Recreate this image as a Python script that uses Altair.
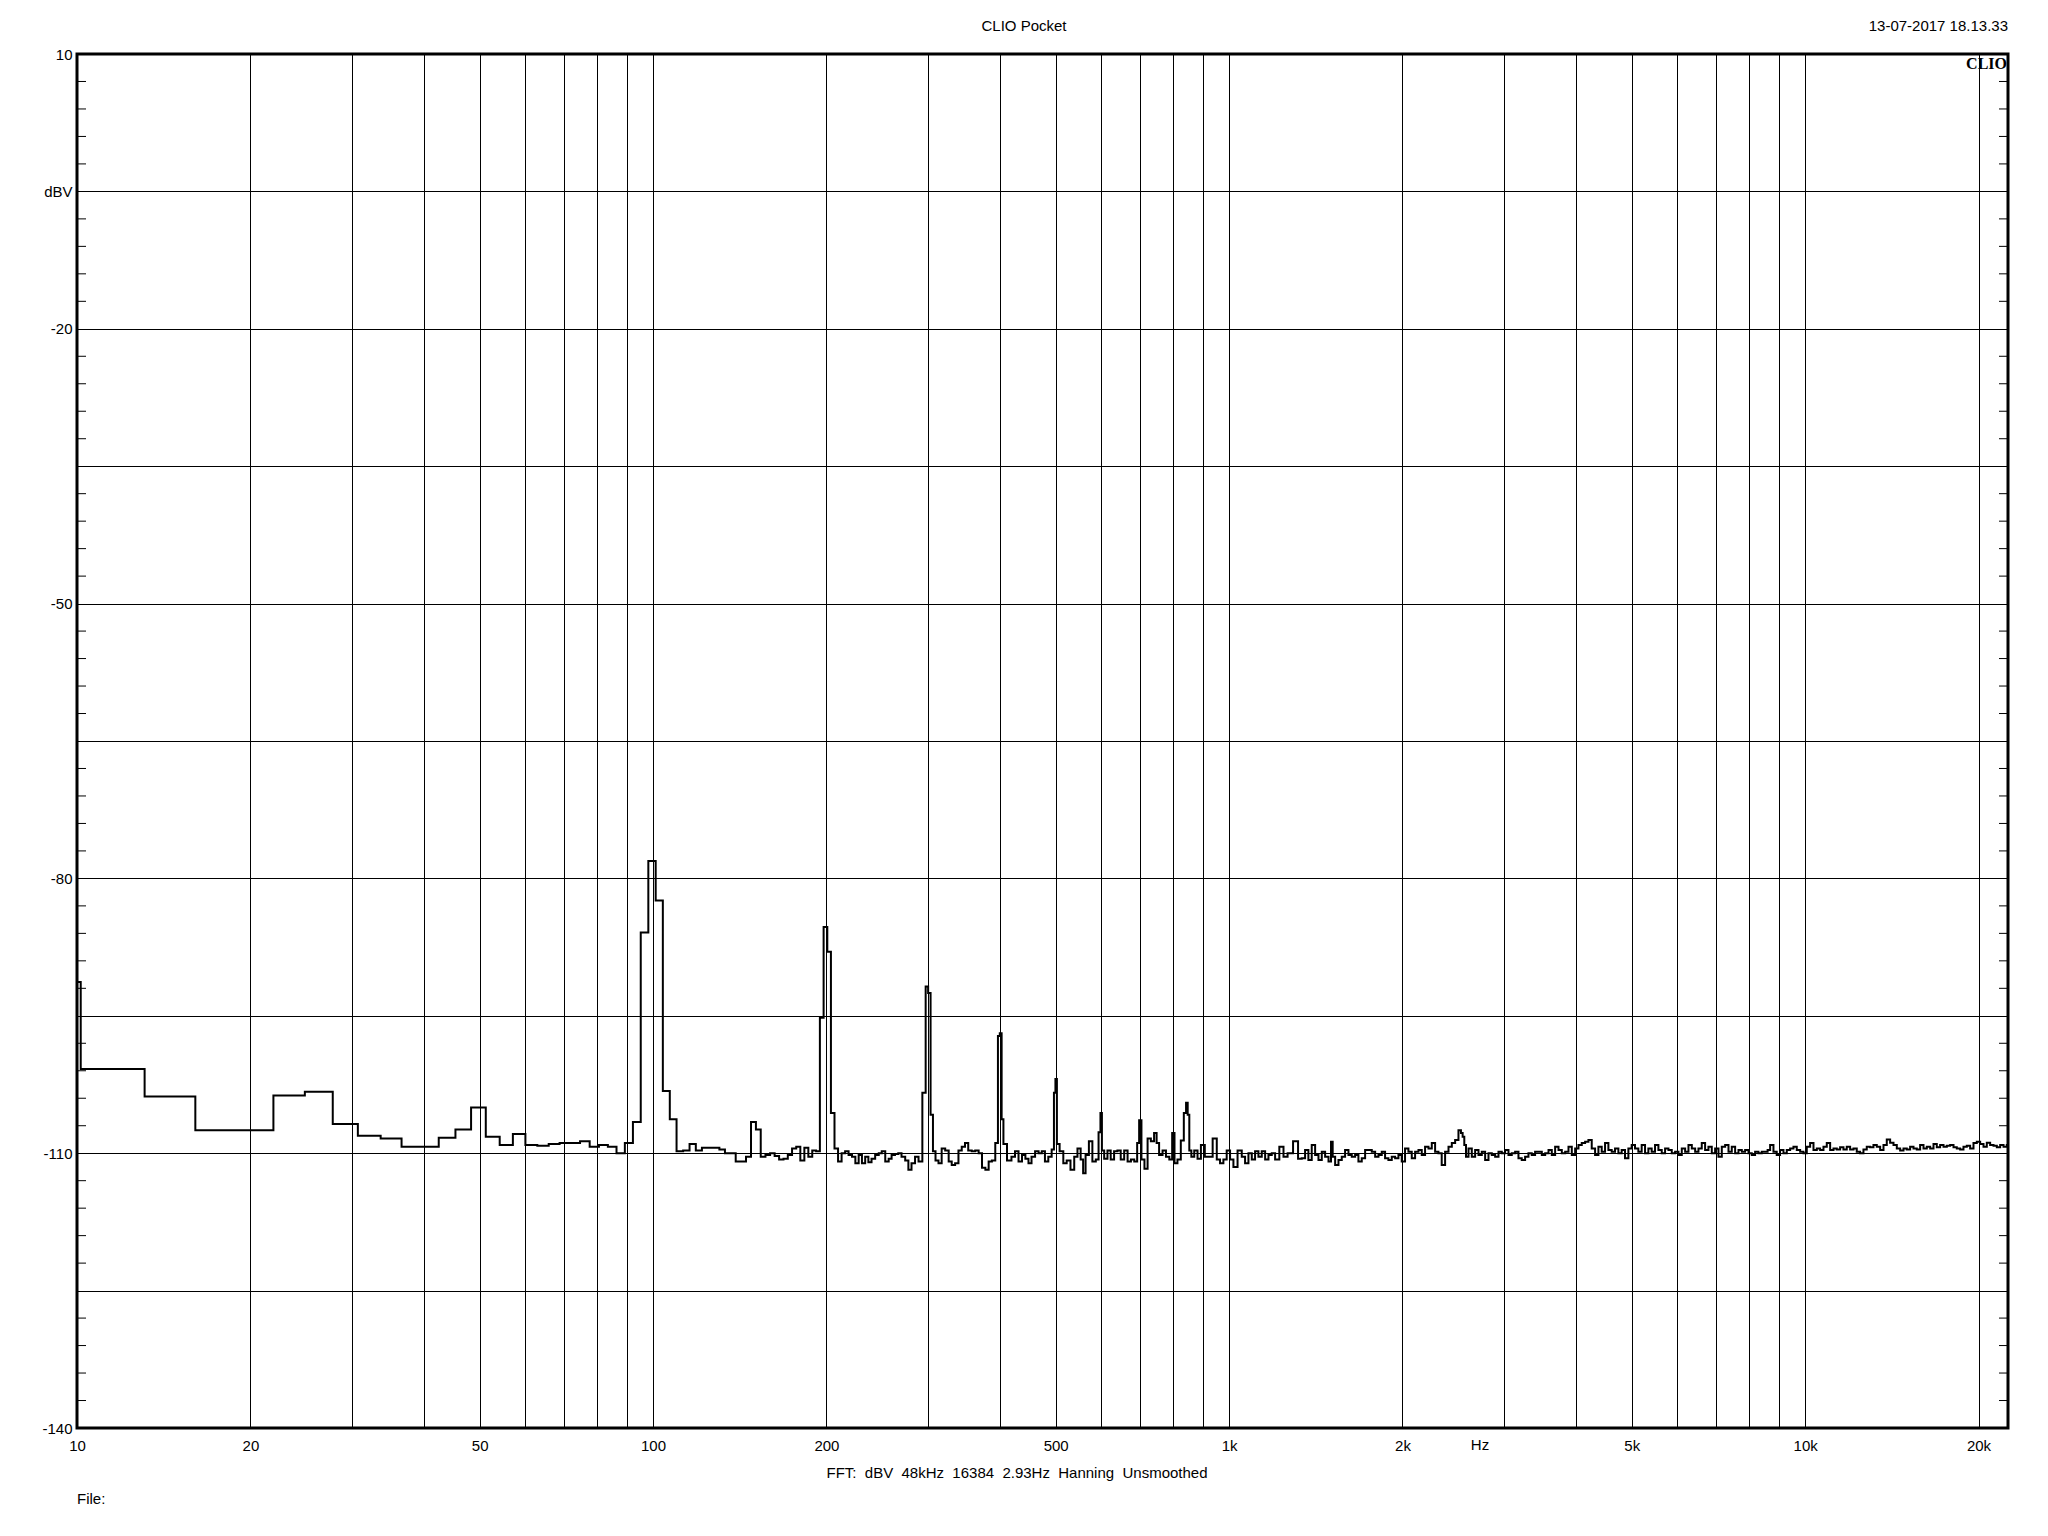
import altair as alt
import pandas as pd

# ---------------- data ----------------
freq_hz = [
    8.79, 11.72, 14.65, 17.58, 20.51, 23.44, 26.37, 29.30, 32.23, 35.16,
    38.09, 41.02, 43.95, 46.88, 49.80, 52.73, 55.66, 58.59, 61.52, 64.45,
    67.38, 70.31, 73.24, 76.17, 79.10, 82.03, 84.96, 87.89, 90.82, 93.75,
    96.68, 99.61, 102.54, 105.47, 108.40, 111.33, 114.26, 117.19, 120.12, 123.05,
    125.98, 128.91, 131.84, 134.77, 137.70, 140.63, 143.55, 146.48, 149.41, 152.34,
    155.27, 158.20, 161.13, 164.06, 166.99, 169.92, 172.85, 175.78, 178.71, 181.64,
    184.57, 187.50, 190.43, 193.36, 196.29, 199.22, 202.15, 205.08, 208.01,
    211, 214, 217, 220, 223, 226, 229, 232, 235, 238, 241, 245, 248, 251, 255,
    258, 261, 265, 268, 272, 276, 279, 283, 287, 291,
    295.9, 298.8, 301.8, 304.7, 307.6,
    311, 315, 319, 324, 328, 332, 337, 341, 346, 350, 355, 360, 365, 370, 375,
    380, 385, 390,
    395.5, 398.4, 401.4, 404.3, 407.2,
    416, 422, 428, 434, 440, 446, 451, 457, 464, 470, 476, 482, 489,
    495.1, 498.0, 501.0, 503.9,
    512, 519, 526, 535, 542, 549, 556, 560, 567, 575, 583, 591, 596, 600, 603,
    611, 619, 627, 636, 644, 653, 662, 671, 680, 689, 696, 700, 709, 717, 727,
    736, 746, 751, 761, 772, 782, 793, 800, 808, 819, 830, 839, 845, 850, 856,
    864, 876, 887, 900, 915, 927, 946, 958, 971, 984, 997, 1011, 1024, 1045,
    1059, 1073, 1088, 1102, 1117, 1132, 1147, 1163, 1178, 1194, 1210, 1235,
    1251, 1276, 1307, 1328,
    1346, 1364, 1382, 1401, 1420, 1439, 1458, 1478, 1498, 1508, 1518, 1538,
    1559, 1579, 1601, 1622, 1644, 1666, 1688, 1711, 1734, 1757, 1781, 1805,
    1829, 1853, 1878, 1903, 1929, 1955, 1981, 2007, 2034, 2062, 2089, 2118,
    2146, 2174, 2204, 2234, 2263, 2294, 2324, 2355, 2388, 2420, 2452, 2485,
    2518, 2535, 2552, 2569, 2587, 2621, 2656, 2692, 2728, 2764, 2802, 2839,
    2877, 2916, 2955, 2994, 3035, 3075, 3116, 3159, 3200, 3243, 3287, 3331,
    3375, 3421,
    3467, 3514, 3562, 3609, 3656, 3707, 3756, 3806, 3858, 3909, 3961, 4015,
    4068, 4122, 4178, 4233, 4290, 4348, 4406, 4464, 4525, 4585, 4646, 4709,
    4772, 4835, 4901, 4967, 5032, 5101, 5168, 5238, 5309, 5380, 5451, 5526,
    5600, 5675, 5752, 5829, 5907, 5987, 6067, 6148, 6232, 6315, 6400, 6486,
    6572, 6659, 6750, 6840, 6931, 7026, 7119, 7215, 7313, 7410, 7508, 7611,
    7713, 7815, 7921, 8026, 8133, 8243, 8353, 8463, 8579,
    8636, 8754, 8868, 8986, 9109, 9232, 9354, 9482, 9607, 9737, 9869, 10000,
    10133, 10271, 10409, 10547, 10690, 10832, 10977, 11127, 11274, 11423,
    11579, 11732, 11890, 12052, 12212, 12373, 12542, 12710, 12878, 13055,
    13228, 13406, 13589, 13769, 13951, 14142, 14332, 14521, 14720, 14915,
    15112, 15319, 15524, 15729, 15945, 16156, 16373, 16596, 16816, 17038,
    17272, 17503, 17735, 17977, 18215, 18456, 18707, 18958, 19209, 19472,
    19730, 19995, 20268, 20536, 20809, 21093, 21376, 21660, 21956, 22247, 22540,
]

level_dbv = [
    -91.3, -100.8, -103.8, -107.5, -107.5, -103.7, -103.3, -106.8, -108.1, -108.4,
    -109.3, -109.3, -108.3, -107.4, -105.0, -108.2, -109.1, -107.9, -109.1, -109.2,
    -109.0, -108.9, -108.9, -108.7, -109.3, -109.1, -109.3, -110.0, -108.9, -106.6,
    -85.9, -78.1, -82.4, -103.2, -106.3, -109.8, -109.7, -109.0, -109.7, -109.4,
    -109.4, -109.4, -109.6, -110.0, -110.0, -110.9, -110.9, -110.4, -106.6, -107.4,
    -110.4, -110.2, -110.0, -110.3, -110.7, -110.6, -110.2, -109.5, -109.3, -110.8,
    -109.4, -110.4, -109.7, -109.8, -95.2, -85.3, -88.0, -105.6, -109.5,
    -110.9, -110.0, -109.8, -110.2, -110.4, -111.1, -110.2, -111.1, -110.4, -111.0,
    -110.6, -110.2, -110.0, -109.8, -110.9, -110.6, -110.2, -110.1, -110.0, -110.4,
    -110.8, -111.8, -111.1, -110.4, -110.9,
    -103.4, -91.8, -92.5, -105.8, -109.8,
    -110.8, -111.1, -109.5, -109.7, -110.9, -111.3, -111.1, -109.7, -109.3, -108.9,
    -109.7, -109.8, -109.7, -110.0, -111.6, -111.8, -110.9, -110.8,
    -108.9, -97.2, -96.9, -106.3, -109.0,
    -110.8, -110.4, -109.8, -110.9, -110.2, -110.6, -111.1, -110.4, -109.8, -110.0,
    -109.8, -110.9, -110.4,
    -109.6, -103.4, -101.9, -109.0,
    -109.8, -111.1, -110.8, -111.8, -110.4, -109.5, -110.7, -112.2, -110.2, -108.7,
    -110.9, -110.7, -107.7, -105.6, -109.7,
    -110.6, -109.7, -110.7, -109.8, -109.7, -110.7, -109.7, -110.9, -110.7, -110.9,
    -108.9, -106.4, -110.7, -111.7, -108.4,
    -108.7, -107.8, -108.9, -110.2, -109.7, -110.4, -110.7, -107.8, -111.1, -110.7,
    -108.6, -105.6, -104.5, -105.8, -109.7,
    -110.4, -109.7, -110.6, -109.1, -110.4, -110.4, -108.4, -110.7, -111.1, -110.7,
    -109.7, -110.7, -111.5, -109.7,
    -110.4, -111.1, -110.0, -110.7, -109.8, -110.4, -109.8, -110.7, -110.2, -110.0,
    -110.7, -109.3, -110.4, -110.0, -108.7, -110.6,
    -110.55, -109.65, -110.75, -109.1, -110.2, -110.75, -109.85, -110.4, -110.9, -108.75,
    -110.4, -111.3, -110.75, -110.4, -109.65, -110.2, -110.4, -110.2, -110.9, -110.55,
    -109.65, -109.65, -109.85, -110.4, -110.2, -109.85, -110.55, -110.75, -110.4, -110.55,
    -110.2, -110.9, -109.5, -109.85, -110.55, -109.85, -109.65, -110.2, -109.3, -109.5,
    -108.9, -109.85, -110.0, -111.3, -109.85, -109.3, -108.9, -108.55, -107.5, -107.8,
    -108.2, -109.1, -110.4, -109.5, -110.4, -109.65, -110.2, -109.85, -110.75, -110.0,
    -110.2, -110.4, -109.85, -110.0, -109.65, -110.2, -110.0, -109.85, -110.55, -110.75,
    -110.4, -110.0, -110.2, -109.85,
    -109.85, -110.2, -110.0, -109.65, -110.2, -109.3, -109.65, -110.0, -109.85, -109.3,
    -110.2, -109.5, -109.1, -108.9, -108.75, -108.55, -109.5, -110.2, -109.3, -109.85,
    -108.9, -109.65, -109.85, -109.5, -110.0, -109.65, -110.55, -109.5, -109.1, -109.5,
    -109.85, -109.1, -110.0, -109.5, -109.85, -109.1, -109.65, -110.0, -109.5, -109.65,
    -110.0, -109.85, -110.2, -109.5, -109.85, -109.1, -109.5, -109.85, -109.5, -108.9,
    -109.65, -109.3, -110.0, -109.5, -110.4, -109.3, -109.1, -109.85, -109.3, -110.0,
    -109.65, -109.85, -109.65, -110.0, -110.2, -109.85, -110.0, -109.85, -109.85,
    -109.65, -109.1, -109.85, -110.2, -109.65, -110.0, -109.65, -109.5, -109.3, -109.65,
    -109.85, -110.0, -109.3, -108.9, -109.65, -109.5, -109.65, -109.3, -108.9, -109.65,
    -109.5, -109.6, -109.35, -109.6, -109.3, -109.6, -109.5, -109.85, -110.0, -109.6,
    -109.3, -109.35, -109.1, -109.3, -109.65, -109.1, -108.5, -108.85, -109.1, -109.5,
    -109.7, -109.5, -109.6, -109.3, -109.5, -109.6, -109.1, -109.5, -109.3, -109.5,
    -109.0, -109.35, -109.1, -109.3, -109.2, -109.1, -109.35, -109.5, -109.6, -109.3,
    -109.2, -109.5, -108.9, -108.75, -109.0, -109.3, -108.85, -109.1, -109.2, -109.35,
    -109.1, -109.3, -109.1,
]

x_grid = [10, 20, 30, 40, 50, 60, 70, 80, 90, 100, 200, 300, 400, 500, 600, 700,
          800, 900, 1000, 2000, 3000, 4000, 5000, 6000, 7000, 8000, 9000, 10000, 20000]
x_labelled = [10, 20, 50, 100, 200, 500, 1000, 2000, 5000, 10000, 20000]
y_grid = [10, -5, -20, -35, -50, -65, -80, -95, -110, -125, -140]
y_labelled = [10, -20, -50, -80, -110, -140]
y_minor = [v for v in range(10, -141, -3) if (10 - v) % 15 != 0]

title_text = "CLIO Pocket"
date_text = "13-07-2017 18.13.33"
brand_text = "CLIO"
fft_text = "FFT:\u00a0 dBV\u00a0 48kHz\u00a0 16384\u00a0 2.93Hz\u00a0 Hanning\u00a0 Unsmoothed"
file_text = "File:"
unit_x_text = "Hz"

# ---------------- chart ----------------
W, H = 1931, 1374
FONT = "Liberation Sans"

df = pd.DataFrame({"f": freq_hz, "db": level_dbv})
assert len(freq_hz) == len(level_dbv)

xscale = alt.Scale(type="log", domain=[10, 22500], nice=False)
yscale = alt.Scale(domain=[-140, 10], nice=False, zero=False)

x_lab_expr = (
    "indexof([" + ",".join(str(v) for v in x_labelled) + "], datum.value) >= 0 ? "
    "(datum.value >= 1000 ? (datum.value / 1000) + 'k' : datum.value + '') : ''"
)
y_lab_expr = (
    "datum.value == -5 ? 'dBV' : (indexof([" + ",".join(str(v) for v in y_labelled)
    + "], datum.value) >= 0 ? datum.value + '' : '')"
)

common_axis = dict(
    grid=True, gridColor="black", gridOpacity=1, gridWidth=1,
    ticks=False, tickSize=0, domain=False, title=None,
    labelFont=FONT, labelFontSize=15, labelColor="black",
    labelOverlap=False, labelFlush=False,
)

x_axis = alt.Axis(values=x_grid, labelExpr=x_lab_expr, labelPadding=10, **common_axis)
y_axis = alt.Axis(values=y_grid, labelExpr=y_lab_expr, labelPadding=5,
                  minExtent=40, maxExtent=40, **common_axis)

line = alt.Chart(df).mark_line(
    interpolate="step", color="black", strokeWidth=2, clip=True
).encode(
    x=alt.X("f:Q", scale=xscale, axis=x_axis),
    y=alt.Y("db:Q", scale=yscale, axis=y_axis),
)

tick_df = pd.DataFrame({"db": y_minor})
left_ticks = alt.Chart(tick_df).mark_rule(color="black", strokeWidth=1).encode(
    y=alt.Y("db:Q", scale=yscale, axis=y_axis), x=alt.value(0), x2=alt.value(9)
)
right_ticks = alt.Chart(tick_df).mark_rule(color="black", strokeWidth=1).encode(
    y=alt.Y("db:Q", scale=yscale, axis=y_axis), x=alt.value(W - 9), x2=alt.value(W)
)

one = pd.DataFrame({"k": [0]})


def label(text, x, y, align="center", baseline="middle", size=15, font=FONT, weight="normal"):
    return alt.Chart(one).mark_text(
        align=align, baseline=baseline, fontSize=size, font=font,
        fontWeight=weight, color="black"
    ).encode(x=alt.value(x), y=alt.value(y), text=alt.value(text))


texts = [
    label(title_text, 947, -28),
    label(date_text, W, -28, align="right"),
    label(brand_text, W - 1, 2, align="right", baseline="top", size=16,
          font="Liberation Serif", weight="bold"),
    label(unit_x_text, 1403, 1384, baseline="top"),
    label(fft_text, 940, 1419),
    label(file_text, 0, 1445, align="left"),
]

chart = alt.layer(line, left_ticks, right_ticks, *texts).properties(
    width=W, height=H,
    autosize=alt.AutoSizeParams(type="none"),
    padding={"left": 69, "top": 46, "right": 30, "bottom": 100},
    background="white",
).configure_view(stroke="black", strokeWidth=3)

chart.save("out.html", embed_options={"renderer": "svg", "actions": False})
